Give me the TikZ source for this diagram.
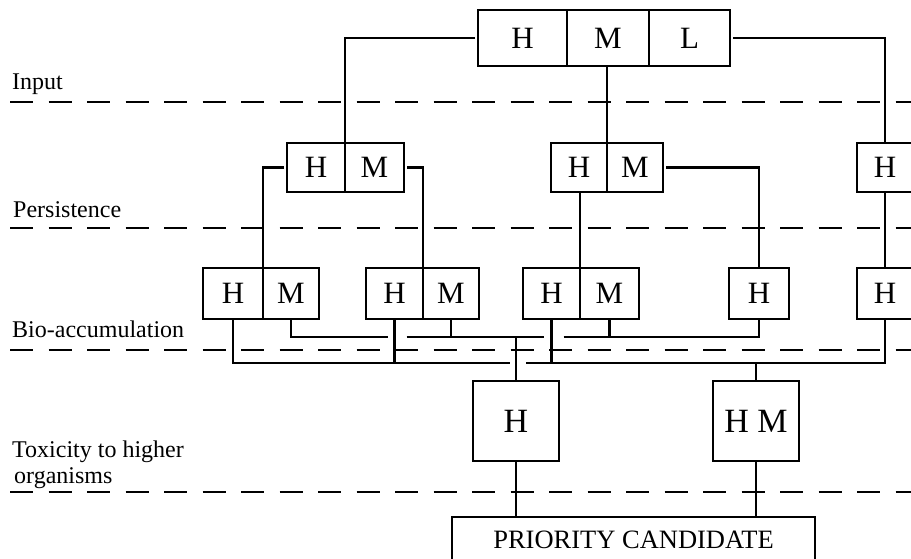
\documentclass[tikz,border=0pt]{standalone}
\usepackage{fontspec}
\setmainfont{Liberation Serif}
\usetikzlibrary{calc}

\tikzset{
  cell/.style={draw, line width=2.4pt, rectangle, inner sep=0pt, outer sep=0pt,
    font=\fontsize{31}{31}\selectfont},
  bigcell/.style={cell, font=\fontsize{34}{34}\selectfont},
  link/.style={line width=2.2pt},
  sidelink/.style={link, shorten <=3pt},
  divider/.style={line width=2.8pt, dash pattern=on 23pt off 15.5pt},
  level/.style={anchor=base west, inner sep=0pt, font=\fontsize{24}{26}\selectfont}
}

\begin{document}
\begin{tikzpicture}[x=1pt, y=-1pt]
\useasboundingbox (0,0) rectangle (911,558);

% level separators
\draw[divider] (10,102) -- (911,102);
\draw[divider] (10,228) -- (911,228);
\draw[divider] (10,350) -- (911,350);
\draw[divider] (10,492) -- (911,492);

% level names
\node[level] (lin)  at (12,89)  {Input};
\node[level] (lper) at (13,217) {Persistence};
\node[level] (lbio) at (12,337) {Bio-accumulation};
\node[level] (ltox) at (12,457) {Toxicity to higher};
\node[level] (ltox2) at (14,483) {organisms};

% input classes
\node[cell, minimum width=89pt, minimum height=56pt] (tH) at (522.5,38) {H};
\node[cell, minimum width=82pt, minimum height=56pt] (tM) at (608,38)   {M};
\node[cell, minimum width=81pt, minimum height=56pt] (tL) at (689.5,38) {L};

% persistence classes
\node[cell, minimum width=58pt, minimum height=49pt] (p1H) at (316,167.5)   {H};
\node[cell, minimum width=59pt, minimum height=49pt] (p1M) at (374.5,167.5) {M};
\node[cell, minimum width=56pt, minimum height=49pt] (p2H) at (579,167.5)   {H};
\node[cell, minimum width=56pt, minimum height=49pt] (p2M) at (635,167.5)   {M};
\node[cell, minimum width=56pt, minimum height=49pt] (p3H) at (885,167.5)   {H};

% bio-accumulation classes
\node[cell, minimum width=60pt, minimum height=51pt] (aH) at (233,293.5)   {H};
\node[cell, minimum width=56pt, minimum height=51pt] (aM) at (291,293.5)   {M};
\node[cell, minimum width=57pt, minimum height=51pt] (bH) at (394.5,293.5) {H};
\node[cell, minimum width=56pt, minimum height=51pt] (bM) at (451,293.5)   {M};
\node[cell, minimum width=57pt, minimum height=51pt] (cH) at (551.5,293.5) {H};
\node[cell, minimum width=59pt, minimum height=51pt] (cM) at (609.5,293.5) {M};
\node[cell, minimum width=60pt, minimum height=51pt] (dH) at (759,293.5)   {H};
\node[cell, minimum width=56pt, minimum height=51pt] (eH) at (885,293.5)   {H};

% toxicity classes
\node[bigcell, minimum width=86pt, minimum height=80pt] (toxH)  at (516,421) {H};
\node[bigcell, minimum width=86pt, minimum height=80pt] (toxHM) at (756,421) {H M};

% outcome
\node[cell, font=\fontsize{26.5}{26.5}\selectfont, minimum width=363pt, minimum height=46pt]
  (prio) at (633.5,540) {PRIORITY CANDIDATE};

% input -> persistence
\draw[sidelink] (tH.west) -| (p1H.north east);
\draw[link] (p2H.north east |- tM.south) -- (p2H.north east);
\draw[sidelink] (tL.east) -| (p3H.north);

% persistence -> bio-accumulation
\draw[sidelink] (p1H.west) -| (aH.north east);
\draw[sidelink] (p1M.east) -| (bH.north east);
\draw[link] (cH.north east |- p2H.south) -- (cH.north east);
\draw[sidelink] (p2M.east) -| (dH.north);
\draw[link] (p3H.south) -- (eH.north);

% upper collecting line
\coordinate (mb) at (0,337);
\draw[link] (aM.south) |- ([xshift=-7pt]bH.south |- mb);
\draw[link] ([xshift=12pt]bH.south |- mb) -- ([xshift=-8pt]cH.south |- mb);
\draw[link] ([xshift=12pt]cH.south |- mb) -| (dH.south);
\draw[link] (bM.south) -- (bM.south |- mb);
\draw[link] (cM.south) -- (cM.south |- mb);
\draw[link] (toxH.north |- mb) -- (toxH.north);

% lower collecting line
\coordinate (hb) at (0,363);
\draw[link] (aH.south) |- ([xshift=-6pt]toxH.north |- hb);
\draw[link] ([xshift=10pt]toxH.north |- hb) -| (eH.south);
\draw[link] (bH.south) -- (bH.south |- hb);
\draw[link] (cH.south) -- (cH.south |- hb);
\draw[link] (toxHM.north |- hb) -- (toxHM.north);

% toxicity -> outcome
\draw[link] (toxH.south) -- (toxH.south |- prio.north);
\draw[link] (toxHM.south) -- (toxHM.south |- prio.north);
\end{tikzpicture}
\end{document}
